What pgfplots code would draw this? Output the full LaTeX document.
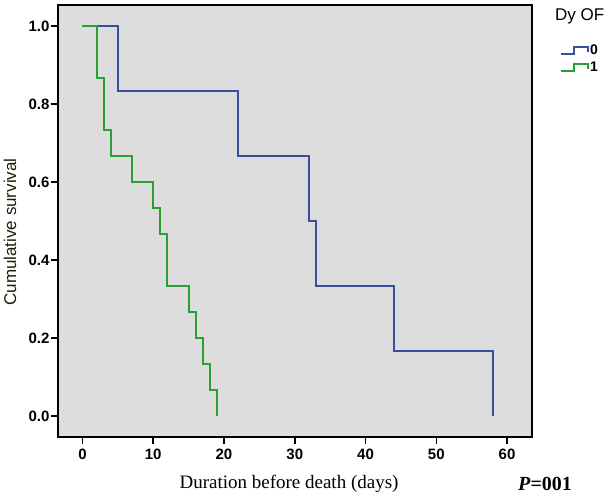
\documentclass[border=0pt]{standalone}
\usepackage{pgfplots}
\pgfplotsset{compat=1.18}
\usepackage{fontspec}
\setmainfont{Liberation Serif}
\setsansfont{Liberation Sans}
\definecolor{bggray}{RGB}{221,221,221}
\definecolor{kmblue}{RGB}{58,78,158}
\definecolor{kmgreen}{RGB}{40,160,52}
\definecolor{labcol}{RGB}{35,28,12}
\begin{document}
\begin{tikzpicture}
\useasboundingbox (-58pt,-62pt) rectangle (554pt,437pt);
\begin{axis}[
  at={(0pt,0pt)}, anchor=south west,
  scale only axis, width=474pt, height=432pt,
  xmin=-3.46, xmax=63.53, ymin=-0.054, ymax=1.054,
  axis background/.style={fill=bggray},
  axis line style={black, line width=1.5pt},
  xtick={0,10,...,60}, ytick={0,0.2,...,1.0},
  tick align=outside, xtick pos=bottom, ytick pos=left,
  major tick length=7pt,
  tick style={black, line width=1.5pt},
  /pgf/number format/assume math mode=true,
  ticklabel style={font=\sffamily\bfseries\fontsize{15}{17}\selectfont, text=black},
  yticklabel style={/pgf/number format/fixed, /pgf/number format/precision=1, /pgf/number format/zerofill, xshift=2pt},
  xticklabel style={yshift=-1pt},
  legend style={at={(1.059,0.910)}, anchor=north west, draw=none, fill=none,
    inner sep=0pt, row sep=4pt,
    nodes={inner sep=1pt, font=\sffamily\bfseries\fontsize{14}{16}\selectfont}},
  legend cell align=left,
  legend image code/.code={\draw[#1] (0pt,-3pt) -- (13pt,-3pt) -- (13pt,4pt) -- (27pt,4pt) -- (27pt,-1pt);},
]
\addplot[const plot, kmblue, line width=2pt] coordinates {
(0,1) (5,0.8333) (22,0.6667) (32,0.5) (33,0.3333) (44,0.1667) (58,0)};
\addlegendentry{0}
\addplot[const plot, kmgreen, line width=2pt] coordinates {
(0,1) (2,0.8667) (3,0.7333) (4,0.6667) (7,0.6) (10,0.5333) (11,0.4667) (12,0.3333) (15,0.2667) (16,0.2) (17,0.1333) (18,0.0667) (19,0)};
\addlegendentry{1}
\end{axis}
\node[rotate=90, font=\sffamily\fontsize{17}{19}\selectfont, text=labcol] at (-48pt,205pt) {Cumulative survival};
\node[anchor=base, font=\fontsize{19}{21}\selectfont, inner sep=0pt] at (231pt,-51pt) {Duration before death (days)};
\node[anchor=base west, font=\bfseries\fontsize{20}{22}\selectfont, inner sep=0pt] at (460pt,-53pt) {\textit{P}=001};
\node[anchor=base west, font=\sffamily\fontsize{17}{19}\selectfont, inner sep=0pt] at (497pt,416pt) {Dy OF};
\end{tikzpicture}
\end{document}
